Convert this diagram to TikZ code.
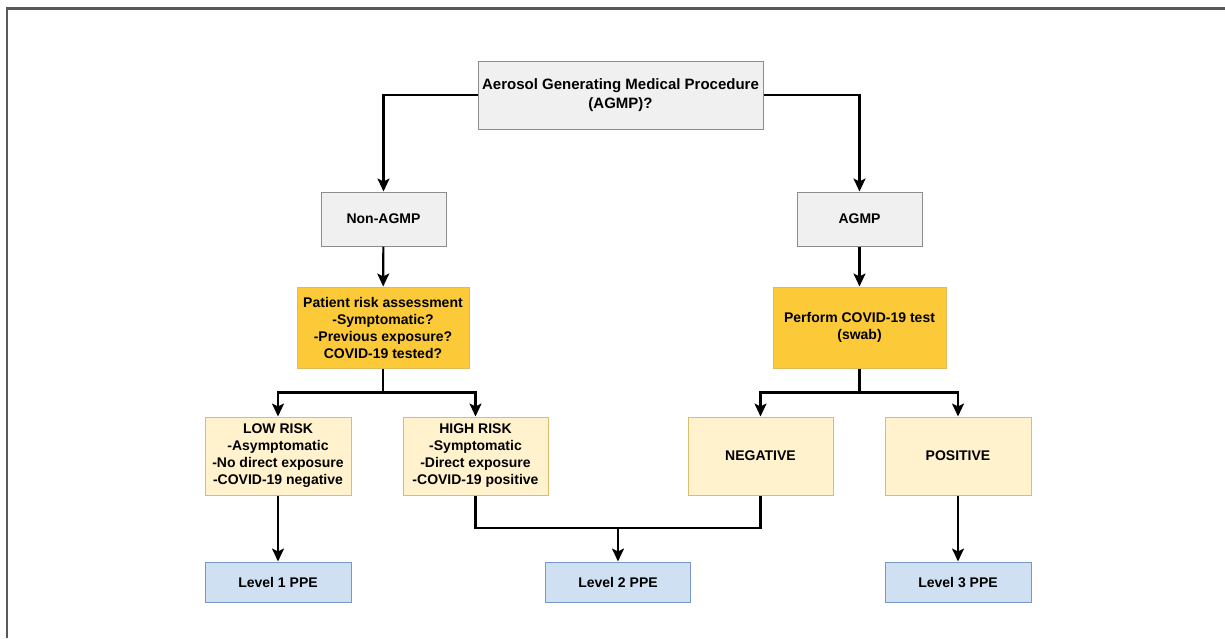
\documentclass[tikz,border=0pt]{standalone}
\usepackage{fontspec}
\setmainfont{Liberation Sans}
\usetikzlibrary{arrows.meta}

\definecolor{grayfill}{RGB}{240,240,240}
\definecolor{graydraw}{RGB}{140,140,140}
\definecolor{orfill}{RGB}{252,202,56}
\definecolor{ordraw}{RGB}{222,186,90}
\definecolor{yelfill}{RGB}{255,242,204}
\definecolor{yeldraw}{RGB}{214,190,110}
\definecolor{bluefill}{RGB}{207,224,243}
\definecolor{bluedraw}{RGB}{120,150,200}

\begin{document}
\begin{tikzpicture}[x=1pt,y=-1pt,
                    every node/.style={rectangle,draw,line width=1pt,inner sep=2pt,align=center,
                                       font=\fontsize{14}{17}\selectfont\bfseries},
                    qbox/.style={fill=grayfill,draw=graydraw},
                    tbox/.style={fill=orfill,draw=ordraw},
                    rbox/.style={fill=yelfill,draw=yeldraw},
                    pbox/.style={fill=bluefill,draw=bluedraw},
                    arr/.style={line width=2.2pt,-{Stealth[length=13pt,width=12pt,inset=3pt]}},
                    ln/.style={line width=2.2pt}]
  \useasboundingbox (0,0) rectangle (1225,638);
  \draw[line width=2.5pt,draw=black!65] (7,638) -- (7,8.5) -- (1225,8.5);

  \node[qbox,minimum width=285pt,minimum height=68pt,inner xsep=0pt,font=\fontsize{15}{19}\selectfont\bfseries] (agmpq) at (620.5,95) {Aerosol Generating Medical Procedure\\(AGMP)?};
  \node[qbox,minimum width=125pt,minimum height=54pt] (non) at (383.5,219) {Non-AGMP};
  \node[qbox,minimum width=125pt,minimum height=54pt] (agmp) at (859.5,219) {AGMP};
  \node[tbox,minimum width=172pt,minimum height=81pt] (assess) at (383,327.5) {Patient risk assessment\\-Symptomatic?\\-Previous exposure?\\COVID-19 tested?};
  \node[tbox,minimum width=173pt,minimum height=81pt] (test) at (859.5,327.5) {Perform COVID-19 test\\(swab)};
  \node[rbox,minimum width=146pt,minimum height=78pt] (low) at (278,456) {LOW RISK\\-Asymptomatic\\-No direct exposure\\-COVID-19 negative};
  \node[rbox,minimum width=145pt,minimum height=78pt] (high) at (475.5,456) {HIGH RISK\\-Symptomatic\\-Direct exposure\\-COVID-19 positive};
  \node[rbox,minimum width=145pt,minimum height=78pt] (neg) at (760.5,456) {NEGATIVE};
  \node[rbox,minimum width=146pt,minimum height=78pt] (pos) at (958,456) {POSITIVE};
  \node[pbox,minimum width=146pt,minimum height=40pt] (lvl1) at (278,582) {Level 1 PPE};
  \node[pbox,minimum width=145pt,minimum height=40pt] (lvl2) at (618,582) {Level 2 PPE};
  \node[pbox,minimum width=146pt,minimum height=40pt] (lvl3) at (958,582) {Level 3 PPE};
  \coordinate (join) at (618,528);

  \draw[arr] (agmpq.west) -| (non.north);
  \draw[arr] (agmpq.east) -| (agmp.north);
  \draw[arr] (non) -- (assess);
  \draw[arr] (agmp) -- (test);
  \draw[arr] (assess.south) -- ++(0,24) -| (low.north);
  \draw[arr] (assess.south) -- ++(0,24) -| (high.north);
  \draw[arr] (test.south) -- ++(0,24) -| (neg.north);
  \draw[arr] (test.south) -- ++(0,24) -| (pos.north);
  \draw[ln] (high.south) |- (join) -| (neg.south);
  \draw[arr] (join) -- (lvl2);
  \draw[arr] (low) -- (lvl1);
  \draw[arr] (pos) -- (lvl3);
\end{tikzpicture}
\end{document}
